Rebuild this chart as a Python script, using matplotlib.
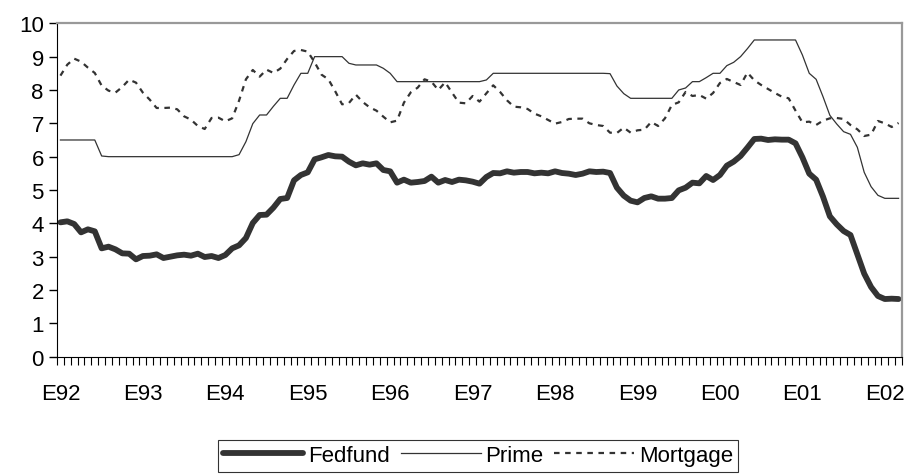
import numpy as np
import matplotlib
matplotlib.use("Agg")
import matplotlib.pyplot as plt
from matplotlib.ticker import FixedLocator

plt.rcParams['font.family'] = ['Liberation Sans', 'DejaVu Sans']

# monthly rates, Jan 1992 - Mar 2002
fedfund = [4.03, 4.06, 3.98, 3.73, 3.82, 3.76, 3.25, 3.30, 3.22, 3.10, 3.09, 2.92,
           3.02, 3.03, 3.07, 2.96, 3.00, 3.04, 3.06, 3.03, 3.09, 2.99, 3.02, 2.96,
           3.05, 3.25, 3.34, 3.56, 4.01, 4.25, 4.26, 4.47, 4.73, 4.76, 5.29, 5.45,
           5.53, 5.92, 5.98, 6.05, 6.01, 6.00, 5.85, 5.74, 5.80, 5.76, 5.80, 5.60,
           5.56, 5.22, 5.31, 5.22, 5.24, 5.27, 5.40, 5.22, 5.30, 5.24, 5.31, 5.29,
           5.25, 5.19, 5.39, 5.51, 5.50, 5.56, 5.52, 5.54, 5.54, 5.50, 5.52, 5.50,
           5.56, 5.51, 5.49, 5.45, 5.49, 5.56, 5.54, 5.55, 5.51, 5.07, 4.83, 4.68,
           4.63, 4.76, 4.81, 4.74, 4.74, 4.76, 4.99, 5.07, 5.22, 5.20, 5.42, 5.30,
           5.45, 5.73, 5.85, 6.02, 6.27, 6.53, 6.54, 6.50, 6.52, 6.51, 6.51, 6.40,
           5.98, 5.49, 5.31, 4.80, 4.21, 3.97, 3.77, 3.65, 3.07, 2.49, 2.09, 1.82,
           1.73, 1.74, 1.73]

prime = [6.50, 6.50, 6.50, 6.50, 6.50, 6.50, 6.02, 6.00, 6.00, 6.00, 6.00, 6.00,
         6.00, 6.00, 6.00, 6.00, 6.00, 6.00, 6.00, 6.00, 6.00, 6.00, 6.00, 6.00,
         6.00, 6.00, 6.06, 6.45, 6.99, 7.25, 7.25, 7.51, 7.75, 7.75, 8.15, 8.50,
         8.50, 9.00, 9.00, 9.00, 9.00, 9.00, 8.80, 8.75, 8.75, 8.75, 8.75, 8.65,
         8.50, 8.25, 8.25, 8.25, 8.25, 8.25, 8.25, 8.25, 8.25, 8.25, 8.25, 8.25,
         8.25, 8.25, 8.30, 8.50, 8.50, 8.50, 8.50, 8.50, 8.50, 8.50, 8.50, 8.50,
         8.50, 8.50, 8.50, 8.50, 8.50, 8.50, 8.50, 8.50, 8.49, 8.12, 7.89, 7.75,
         7.75, 7.75, 7.75, 7.75, 7.75, 7.75, 8.00, 8.06, 8.25, 8.25, 8.37, 8.50,
         8.50, 8.73, 8.83, 9.00, 9.24, 9.50, 9.50, 9.50, 9.50, 9.50, 9.50, 9.50,
         9.05, 8.50, 8.32, 7.80, 7.24, 6.98, 6.75, 6.67, 6.28, 5.53, 5.10, 4.84,
         4.75, 4.75, 4.75]

mortgage = [8.43, 8.76, 8.94, 8.85, 8.67, 8.51, 8.13, 7.98, 7.92, 8.09, 8.31, 8.22,
            7.92, 7.71, 7.46, 7.46, 7.47, 7.42, 7.21, 7.11, 6.92, 6.83, 7.16, 7.17,
            7.06, 7.15, 7.68, 8.32, 8.60, 8.40, 8.61, 8.51, 8.64, 8.93, 9.17, 9.20,
            9.15, 8.83, 8.46, 8.32, 7.96, 7.57, 7.61, 7.86, 7.64, 7.48, 7.38, 7.20,
            7.03, 7.08, 7.62, 7.93, 8.07, 8.32, 8.25, 8.00, 8.23, 7.92, 7.62, 7.60,
            7.82, 7.65, 7.90, 8.14, 7.94, 7.69, 7.50, 7.48, 7.43, 7.29, 7.21, 7.10,
            6.99, 7.04, 7.13, 7.14, 7.14, 7.00, 6.95, 6.92, 6.72, 6.71, 6.87, 6.72,
            6.79, 6.81, 7.04, 6.92, 7.15, 7.55, 7.63, 7.94, 7.82, 7.85, 7.74, 7.91,
            8.21, 8.33, 8.24, 8.15, 8.52, 8.29, 8.15, 8.03, 7.91, 7.80, 7.75, 7.38,
            7.03, 7.05, 6.95, 7.08, 7.15, 7.16, 7.13, 6.95, 6.82, 6.62, 6.66, 7.07,
            7.00, 6.89, 7.01]

year_labels = ['E92', 'E93', 'E94', 'E95', 'E96', 'E97', 'E98', 'E99', 'E00', 'E01', 'E02']

n = len(fedfund)
x = np.arange(n)
col = '#333333'

fig = plt.figure(figsize=(9.06, 4.77), dpi=100)
ax = fig.add_axes([57/906, 1 - 357.7/477, 845/906, 333.4/477])

ax.plot(x, fedfund, color=col, lw=4.2, solid_joinstyle='round',
        solid_capstyle='round', label='Fedfund')
ax.plot(x, prime, color=col, lw=0.9, label='Prime')
ax.plot(x, mortgage, color=col, lw=1.6, dashes=(2.5, 2.5), label='Mortgage')

ax.set_xlim(-0.5, n - 0.5)
ax.set_ylim(0, 10)
ax.set_yticks(range(0, 11))
ax.tick_params(axis='y', labelsize=16, length=6, width=1, pad=3.5, direction='out')

ax.set_xticks(np.arange(0, n, 12))
ax.set_xticklabels(year_labels)
ax.xaxis.set_minor_locator(FixedLocator(np.arange(-0.5, n, 1)))
ax.tick_params(axis='x', which='major', labelsize=16, length=0, pad=19)
ax.tick_params(axis='x', which='minor', length=6, width=0.8, direction='out')

ax.spines['left'].set_color('black')
ax.spines['bottom'].set_color('black')
for s in ['top', 'right']:
    ax.spines[s].set_color('#999999')
    ax.spines[s].set_linewidth(1.6)

leg = fig.legend(loc='upper center', bbox_to_anchor=(478/906, 1 - 440.7/477),
                 ncol=3, fontsize=16, frameon=True, fancybox=False,
                 handlelength=3.6, handletextpad=0.2, columnspacing=0.5,
                 borderpad=0.25, borderaxespad=0)
leg.get_frame().set_edgecolor('black')
leg.get_frame().set_linewidth(0.8)

fig.savefig('out.png', dpi=100)
